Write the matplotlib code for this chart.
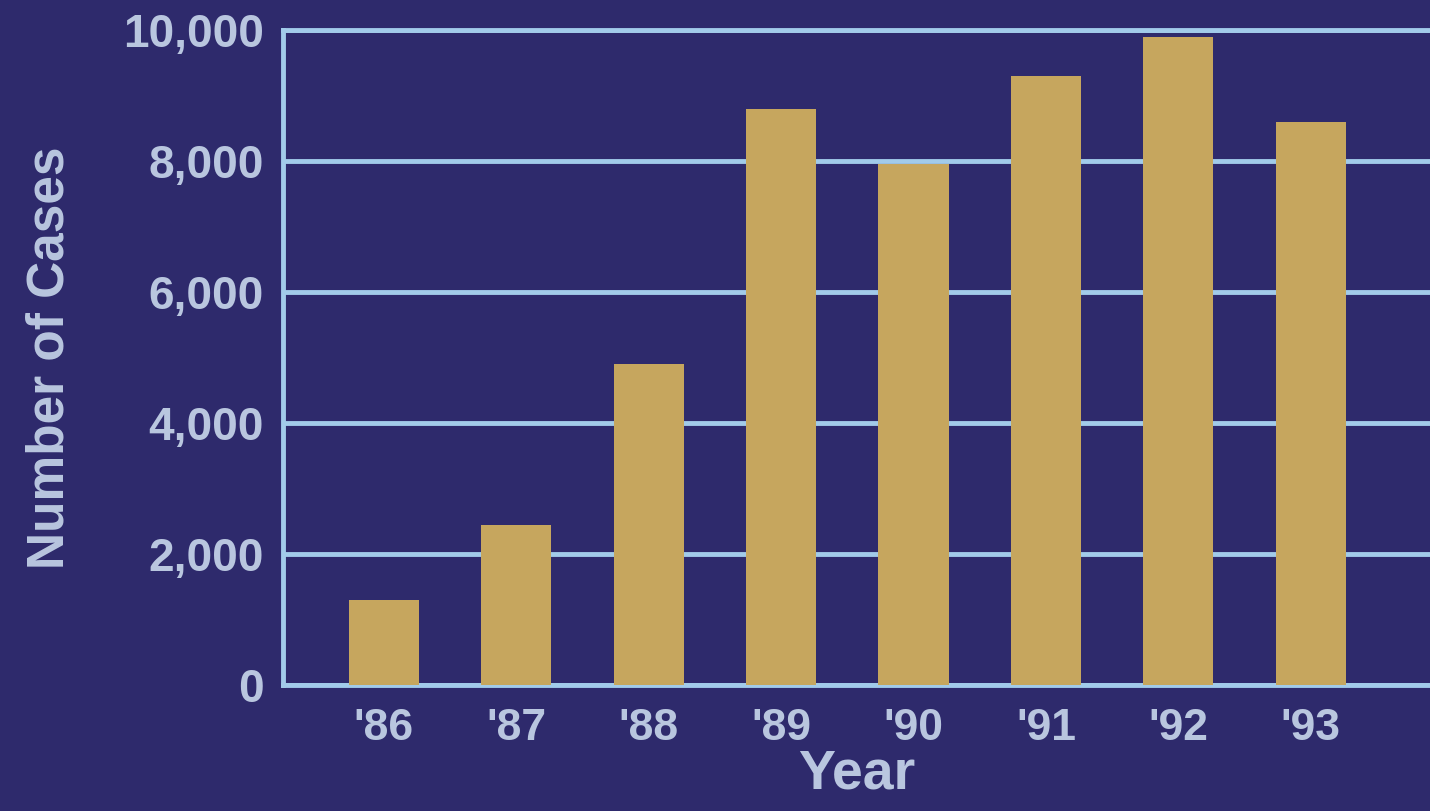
import matplotlib
matplotlib.use("Agg")
import matplotlib.pyplot as plt
from matplotlib.ticker import FuncFormatter

years = ["'86", "'87", "'88", "'89", "'90", "'91", "'92", "'93"]
cases = [1300, 2450, 4900, 8800, 7950, 9300, 9900, 8600]
yticks = [0, 2000, 4000, 6000, 8000, 10000]

bg = "#2e2a6c"
bar_color = "#c6a65e"
line_color = "#a2cbea"
text_color = "#b9c6df"

plt.rcParams['font.family'] = ['Liberation Sans', 'DejaVu Sans']

fig = plt.figure(figsize=(14.3, 8.11), dpi=100)
fig.patch.set_facecolor(bg)
ax = fig.add_axes([0.198, 0.155, 0.802, 0.808])
ax.set_facecolor(bg)

x = list(range(len(years)))
ax.bar(x, cases, width=0.53, color=bar_color, zorder=3)

ax.set_ylim(0, 10000)
ax.set_xlim(-0.76, 7.9)
ax.set_yticks(yticks)
ax.yaxis.set_major_formatter(FuncFormatter(lambda v, p: f"{int(v):,}"))
ax.set_xticks(x)
ax.set_xticklabels(years)

ax.grid(axis='y', color=line_color, linewidth=3.5, zorder=1)
ax.grid(axis='x', visible=False)
for s in ['left', 'bottom', 'top']:
    ax.spines[s].set_color(line_color)
    ax.spines[s].set_linewidth(3.5)
ax.spines['right'].set_visible(False)

ax.tick_params(axis='y', length=0, colors=text_color, labelsize=33, pad=14)
ax.tick_params(axis='x', length=0, colors=text_color, labelsize=32, pad=16)
for lab in ax.get_xticklabels() + ax.get_yticklabels():
    lab.set_fontweight('bold')

ax.set_ylabel("Number of Cases", color=text_color, fontsize=37, fontweight='bold', labelpad=35)
ax.set_xlabel("Year", color=text_color, fontsize=40, fontweight='bold', labelpad=0)

fig.savefig("out.png", dpi=100, facecolor=bg)
